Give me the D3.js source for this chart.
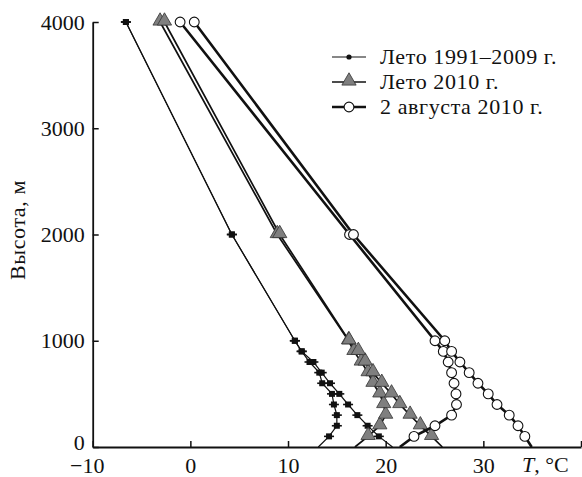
<!DOCTYPE html>
<html>
<head>
<meta charset="utf-8">
<script src="https://cdn.jsdelivr.net/npm/d3@7"></script>
<style>
  body { margin: 0; background: #fff; }
  text { font-family: "Liberation Serif", "DejaVu Serif", serif; fill: #111; }
</style>
</head>
<body>
<svg id="chart" width="582" height="477"></svg>
<script>
// heights of the sounding levels, m
const heights = [0, 100, 200, 300, 400, 500, 600, 700, 800, 900, 1000, 2000, 4000];

// Лето 1991–2009 г. (two profiles)
const summerNormA = [13.1, 14.2, 15.0, 15.0, 14.7, 14.5, 13.5, 13.2, 12.2, 11.4, 10.7, 4.25, -6.6];
const summerNormB = [20.7, 19.3, 18.15, 17.1, 16.15, 15.25, 14.3, 13.45, 12.6, 11.4, 10.7, 4.25, -6.6];
// Лето 2010 г.
const summer2010A = [16.85, 18.2, 19.4, 20.0, 19.8, 19.4, 18.7, 18.2, 17.5, 16.75, 16.2, 8.9, -3.1];
const summer2010B = [25.8, 24.7, 23.55, 22.5, 21.45, 20.6, 19.6, 18.7, 17.9, 17.2, 16.25, 9.15, -2.65];
// 2 августа 2010 г.
const aug2A = [21.45, 22.9, 25.05, 26.75, 27.25, 27.2, 27.0, 26.75, 26.4, 25.9, 25.05, 16.3, -1.05];
const aug2B = [34.95, 34.25, 33.55, 32.65, 31.4, 30.5, 29.45, 28.55, 27.6, 26.75, 26.05, 16.7, 0.4];

const xTicks = [-10, 0, 10, 20, 30, 40];
const yTicks = [0, 1000, 2000, 3000, 4000];
const legendLabels = ["Лето 1991–2009 г.", "Лето 2010 г.", "2 августа 2010 г."];

const svg = d3.select("#chart");

const x = d3.scaleLinear().domain([-10, 40]).range([92.7, 581]);
const y = d3.scaleLinear().domain([0, 4000]).range([447, 22]);

// axes, ticks pointing inward
const xAxis = d3.axisBottom(x).tickValues(xTicks).tickSize(-6).tickSizeOuter(0)
  .tickFormat(d => d === 40 ? "" : (d < 0 ? "\u2212" + Math.abs(d) : d));
const gx = svg.append("g").attr("transform", "translate(0,447)").call(xAxis);
gx.select(".domain").attr("stroke", "#111").attr("stroke-width", 1.8);
gx.selectAll(".tick line").attr("stroke", "#111").attr("stroke-width", 1.5);
gx.selectAll(".tick text").attr("font-size", 22).attr("y", 6).attr("dy", "0.9em")
  .attr("dx", d => d < 0 ? -6 : 0);

const yAxis = d3.axisLeft(y).tickValues(yTicks).tickSize(-6).tickSizeOuter(0)
  .tickFormat(d3.format("d"));
const gy = svg.append("g").attr("transform", "translate(92.7,0)").call(yAxis);
gy.select(".domain").attr("stroke", "#111").attr("stroke-width", 1.8);
gy.selectAll(".tick line").attr("stroke", "#111").attr("stroke-width", 1.5);
gy.selectAll(".tick text").attr("font-size", 22).attr("x", -8)
  .attr("dy", d => d === 0 ? "0.1em" : "0.32em");

svg.append("text").attr("x", 522).attr("y", 472).attr("font-size", 22)
  .html('<tspan font-style="italic">T</tspan>, \u00b0C');

svg.append("text").attr("transform", "translate(25,230) rotate(-90)")
  .attr("text-anchor", "middle").attr("font-size", 22).attr("letter-spacing", 0.6)
  .text("Высота, м");

// series
const series = [
  { profiles: [summerNormA, summerNormB], width: 1.2, marker: "diamond" },
  { profiles: [summer2010A, summer2010B], width: 1.7, marker: "triangle" },
  { profiles: [aug2A, aug2B], width: 2.6, marker: "circle" }
];

const line = d3.line().x(d => x(d.t)).y(d => y(d.h));

function drawMarker(g, kind, px, py) {
  if (kind === "diamond") {
    g.append("line").attr("x1", px - 5).attr("x2", px + 5).attr("y1", py).attr("y2", py)
      .attr("stroke", "#111").attr("stroke-width", 1.6);
    g.append("path").attr("d", d3.symbol(d3.symbolSquare, 36)())
      .attr("transform", `translate(${px},${py})`).attr("fill", "#111");
  } else if (kind === "triangle") {
    g.append("path").attr("d", d3.symbol(d3.symbolTriangle, 88)())
      .attr("transform", `translate(${px},${py - 1})`)
      .attr("fill", "#7f7f7f").attr("stroke", "#333").attr("stroke-width", 0.8);
  } else {
    g.append("circle").attr("cx", px).attr("cy", py).attr("r", 4.9)
      .attr("fill", "#fff").attr("stroke", "#111").attr("stroke-width", 1.1);
  }
}

series.forEach(s => {
  const g = svg.append("g");
  s.profiles.forEach(p => {
    const pts = heights.map((h, i) => ({ h: h, t: p[i] }));
    g.append("path").datum(pts).attr("d", line)
      .attr("fill", "none").attr("stroke", "#111").attr("stroke-width", s.width);
  });
  s.profiles.forEach(p => {
    heights.forEach((h, i) => {
      if (h > 0) drawMarker(g, s.marker, x(p[i]), y(h));
    });
  });
});

// legend
const legend = svg.append("g");
legendLabels.forEach((lab, i) => {
  const ly = 57 + i * 25;
  legend.append("line").attr("x1", 332).attr("x2", 366).attr("y1", ly).attr("y2", ly)
    .attr("stroke", "#111").attr("stroke-width", series[i].width);
  if (i === 0) {
    legend.append("circle").attr("cx", 349).attr("cy", ly).attr("r", 2.6).attr("fill", "#111");
  } else {
    drawMarker(legend, series[i].marker, 349, ly);
  }
  legend.append("text").attr("x", 380).attr("y", ly + 7).attr("font-size", 22)
    .attr("letter-spacing", 0.6).text(lab);
});
</script>
</body>
</html>
